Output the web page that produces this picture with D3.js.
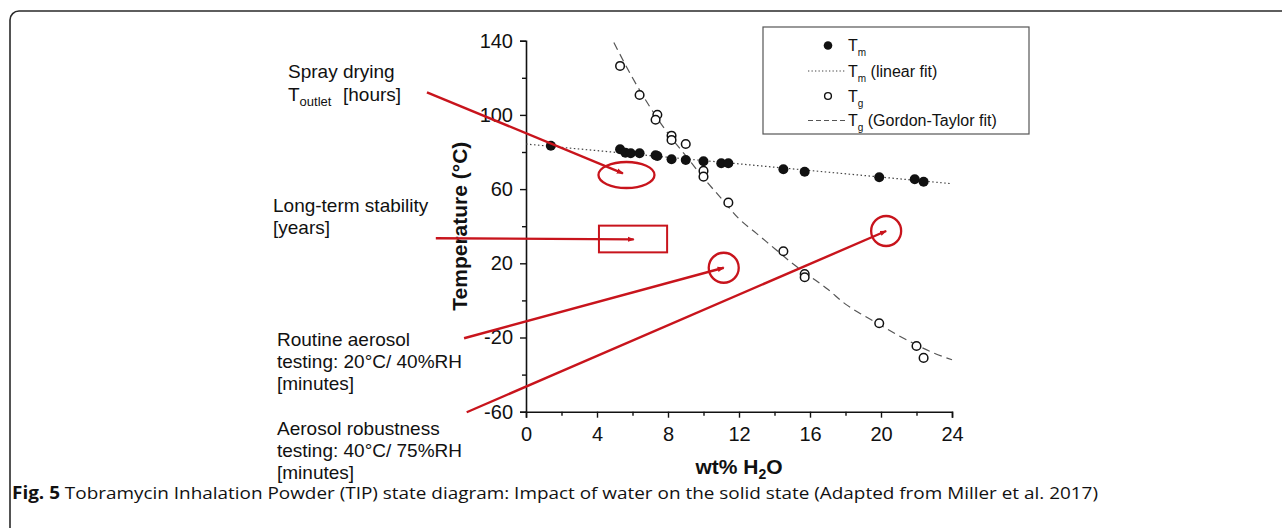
<!DOCTYPE html>
<html>
<head>
<meta charset="utf-8">
<script src="https://cdn.jsdelivr.net/npm/d3@7"></script>
<style>
  html, body { margin: 0; padding: 0; background: #fff; }
  svg { display: block; }
  text { font-family: "Liberation Sans", Arial, sans-serif; fill: #111; }
</style>
</head>
<body>
<svg id="chart" width="1282" height="528"></svg>
<script>
// ---------- data ----------
const xTicks = [0, 4, 8, 12, 16, 20, 24];
const yTicks = [-60, -20, 20, 60, 100, 140];

// T_m (filled circles)
const tmX = [1.4, 5.3, 5.6, 5.9, 6.4, 7.3, 7.4, 8.2, 9.0, 10.0, 11.0, 11.4, 14.5, 15.7, 19.9, 21.9, 22.4];
const tmY = [83.4, 81.5, 79.6, 79.3, 79.3, 78.2, 77.8, 76.1, 75.7, 75.0, 73.9, 73.9, 70.7, 69.4, 66.4, 65.3, 64.0];

// T_m linear fit
const tmFitX = [0, 24];
const tmFitY = [84.3, 62.9];

// T_g (open circles)
const tgX = [5.3, 6.4, 7.4, 7.3, 8.2, 8.2, 9.0, 10.0, 10.0, 11.4, 14.5, 15.7, 15.7, 19.9, 22.0, 22.4];
const tgY = [126.4, 110.7, 100.1, 97.4, 88.8, 86.5, 84.3, 69.8, 66.7, 52.7, 26.5, 14.2, 12.5, -12.3, -24.6, -31.0];

// T_g Gordon-Taylor fit
const gtX = [4.95, 6, 7, 8, 9, 10, 11, 12, 13, 14, 15, 16, 17, 18, 19, 20, 21, 22, 23, 24];
const gtY = [139, 120, 104, 90, 78, 66, 55, 44, 36, 28, 20, 13, 6, -2, -8, -13.5, -19, -24, -28.5, -32];

// red annotation arrows (data units)
const annoFromX = [-5.58, -5.08, -3.49, -3.34];
const annoFromY = [112.2, 33.5, -20.4, -60.3];
const annoToX = [5.46, 6.07, 11.14, 20.29];
const annoToY = [68.5, 32.9, 17.6, 37.4];

// highlighted regions
const ellipseCenter = [5.66, 67.6];
const rectX = [4.11, 7.95];
const rectY = [25.9, 40.3];
const circleCenters = [[11.14, 17.6], [20.29, 37.4]];

// left annotation labels
const annoLabels = [
  ["Spray drying"],
  ["Long-term stability", "[years]"],
  ["Routine aerosol", "testing: 20°C/ 40%RH", "[minutes]"],
  ["Aerosol robustness", "testing: 40°C/ 75%RH", "[minutes]"]
];

const legendItems = [
  { type: "filled", main: "T", sub: "m", rest: "" },
  { type: "dotted", main: "T", sub: "m", rest: " (linear fit)" },
  { type: "open", main: "T", sub: "g", rest: "" },
  { type: "dashed", main: "T", sub: "g", rest: " (Gordon-Taylor fit)" }
];

// ---------- drawing ----------
const svg = d3.select("#chart");
const RED = "#c8141c";

// outer frame
svg.append("rect")
  .attr("x", 10).attr("y", 11).attr("rx", 9).attr("ry", 9)
  .attr("width", 1300).attr("height", 600)
  .attr("fill", "none").attr("stroke", "#2a2a2a").attr("stroke-width", 1.6);

const x = d3.scaleLinear().domain([0, 24]).range([526, 952]);
const y = d3.scaleLinear().domain([-60, 140]).range([411.7, 40.7]);
const fmt = d => String(d);

// axes
const xAxis = svg.append("g").attr("transform", `translate(0,${y(-60)})`)
  .call(d3.axisBottom(x).tickValues(xTicks).tickFormat(fmt).tickSize(6).tickPadding(9));
const xMinor = svg.append("g").attr("transform", `translate(0,${y(-60)})`)
  .call(d3.axisBottom(x).tickValues(d3.range(2, 24, 4)).tickFormat("").tickSize(4));
xMinor.select(".domain").remove();

const yAxis = svg.append("g").attr("transform", `translate(${x(0)},0)`)
  .call(d3.axisLeft(y).tickValues(yTicks).tickFormat(fmt).tickSize(6).tickPadding(7));
const yMinor = svg.append("g").attr("transform", `translate(${x(0)},0)`)
  .call(d3.axisLeft(y).tickValues(d3.range(-40, 140, 40)).tickFormat("").tickSize(4));
yMinor.select(".domain").remove();

[xAxis, yAxis, xMinor, yMinor].forEach(g => {
  g.selectAll(".domain").attr("stroke", "#111").attr("stroke-width", 1.6);
  g.selectAll(".tick line").attr("stroke", "#111").attr("stroke-width", 1.4);
  g.selectAll(".tick text").attr("font-size", 20).attr("fill", "#111")
    .style("font-family", "'Liberation Sans', Arial, sans-serif");
});

// axis titles
svg.append("text")
  .attr("transform", `translate(467,${(y(140) + y(-60)) / 2}) rotate(-90)`)
  .attr("text-anchor", "middle").attr("font-size", 21).attr("font-weight", "bold")
  .text("Temperature (°C)");

const xl = svg.append("text")
  .attr("x", (x(0) + x(24)) / 2).attr("y", 474)
  .attr("text-anchor", "middle").attr("font-size", 21).attr("font-weight", "bold");
xl.append("tspan").text("wt% H");
xl.append("tspan").attr("font-size", 14).attr("dy", 5).text("2");
xl.append("tspan").attr("dy", -5).text("O");

// fit lines
const line = d3.line().x(d => x(d[0])).y(d => y(d[1]));
svg.append("path")
  .datum(tmFitX.map((v, i) => [v, tmFitY[i]]))
  .attr("d", line).attr("fill", "none")
  .attr("stroke", "#444").attr("stroke-width", 1.2).attr("stroke-dasharray", "1.5,2.5");

svg.append("path")
  .datum(gtX.map((v, i) => [v, gtY[i]]))
  .attr("d", line.curve(d3.curveMonotoneX)).attr("fill", "none")
  .attr("stroke", "#555").attr("stroke-width", 1.2).attr("stroke-dasharray", "8,5");

// points
svg.append("g").selectAll("circle")
  .data(tgX.map((v, i) => [v, tgY[i]]))
  .join("circle")
  .attr("cx", d => x(d[0])).attr("cy", d => y(d[1])).attr("r", 4.3)
  .attr("fill", "#fff").attr("stroke", "#111").attr("stroke-width", 1.5);

svg.append("g").selectAll("circle")
  .data(tmX.map((v, i) => [v, tmY[i]]))
  .join("circle")
  .attr("cx", d => x(d[0])).attr("cy", d => y(d[1])).attr("r", 5)
  .attr("fill", "#111");

// legend
const lg = svg.append("g");
lg.append("rect").attr("x", 763).attr("y", 27).attr("width", 266).attr("height", 107)
  .attr("fill", "#fff").attr("stroke", "#555").attr("stroke-width", 1.2);
const rowY = [45.5, 71, 96, 120.5];
legendItems.forEach((it, i) => {
  const cy = rowY[i];
  if (it.type === "filled") {
    lg.append("circle").attr("cx", 828).attr("cy", cy).attr("r", 4.3).attr("fill", "#111");
  } else if (it.type === "open") {
    lg.append("circle").attr("cx", 828).attr("cy", cy).attr("r", 3.4)
      .attr("fill", "#fff").attr("stroke", "#111").attr("stroke-width", 1.4);
  } else {
    lg.append("line").attr("x1", 808).attr("x2", 846).attr("y1", cy).attr("y2", cy)
      .attr("stroke", it.type === "dotted" ? "#444" : "#555").attr("stroke-width", 1.1)
      .attr("stroke-dasharray", it.type === "dotted" ? "1.3,2.2" : "5,3");
  }
  const t = lg.append("text").attr("x", 848).attr("y", cy + 5.5).attr("font-size", 16);
  t.append("tspan").text(it.main);
  t.append("tspan").attr("font-size", 10).attr("dy", 5).text(it.sub);
  if (it.rest) t.append("tspan").attr("dy", -5).text(it.rest);
});

// red annotations
const defs = svg.append("defs");
defs.append("marker").attr("id", "arr").attr("viewBox", "0 -4 8 8")
  .attr("refX", 7).attr("refY", 0).attr("markerWidth", 7).attr("markerHeight", 7)
  .attr("markerUnits", "userSpaceOnUse").attr("orient", "auto")
  .append("path").attr("d", "M0,-3L8,0L0,3Z").attr("fill", RED);

const an = svg.append("g");
annoFromX.forEach((v, i) => {
  an.append("line")
    .attr("x1", x(v)).attr("y1", y(annoFromY[i]))
    .attr("x2", x(annoToX[i])).attr("y2", y(annoToY[i]))
    .attr("stroke", RED).attr("stroke-width", 2.4).attr("marker-end", "url(#arr)");
});
an.append("ellipse")
  .attr("cx", x(ellipseCenter[0])).attr("cy", y(ellipseCenter[1]))
  .attr("rx", 28).attr("ry", 13)
  .attr("fill", "none").attr("stroke", RED).attr("stroke-width", 2.3);
an.append("rect")
  .attr("x", x(rectX[0])).attr("y", y(rectY[1]))
  .attr("width", x(rectX[1]) - x(rectX[0])).attr("height", y(rectY[0]) - y(rectY[1]))
  .attr("fill", "none").attr("stroke", RED).attr("stroke-width", 2);
circleCenters.forEach(c => {
  an.append("circle").attr("cx", x(c[0])).attr("cy", y(c[1])).attr("r", 15)
    .attr("fill", "none").attr("stroke", RED).attr("stroke-width", 2.3);
});

// left labels
const lab = svg.append("g");
const sp = lab.append("text").attr("x", 288).attr("y", 78).attr("font-size", 19);
sp.text(annoLabels[0][0]);
const sp2 = lab.append("text").attr("x", 288).attr("y", 101).attr("font-size", 19);
sp2.append("tspan").text("T");
sp2.append("tspan").attr("font-size", 13).attr("dy", 5).text("outlet");
sp2.append("tspan").attr("x", 343).attr("dy", -5).text("[hours]");

const blocks = [
  { lines: annoLabels[1], x: 273, y: 211.5 },
  { lines: annoLabels[2], x: 277, y: 346 },
  { lines: annoLabels[3], x: 277, y: 434.5 }
];
blocks.forEach(b => {
  b.lines.forEach((s, j) => {
    lab.append("text").attr("x", b.x).attr("y", b.y + j * 22).attr("font-size", 19).text(s);
  });
});

// caption
const cap = svg.append("text").attr("x", 12).attr("y", 499)
  .attr("font-size", 17).style("font-family", "'Open Sans', sans-serif")
  .attr("textLength", 1086).attr("lengthAdjust", "spacingAndGlyphs");
cap.append("tspan").attr("font-weight", "bold").text("Fig. 5");
cap.append("tspan").text(" Tobramycin Inhalation Powder (TIP) state diagram: Impact of water on the solid state (Adapted from Miller et al. 2017)");
</script>
</body>
</html>
